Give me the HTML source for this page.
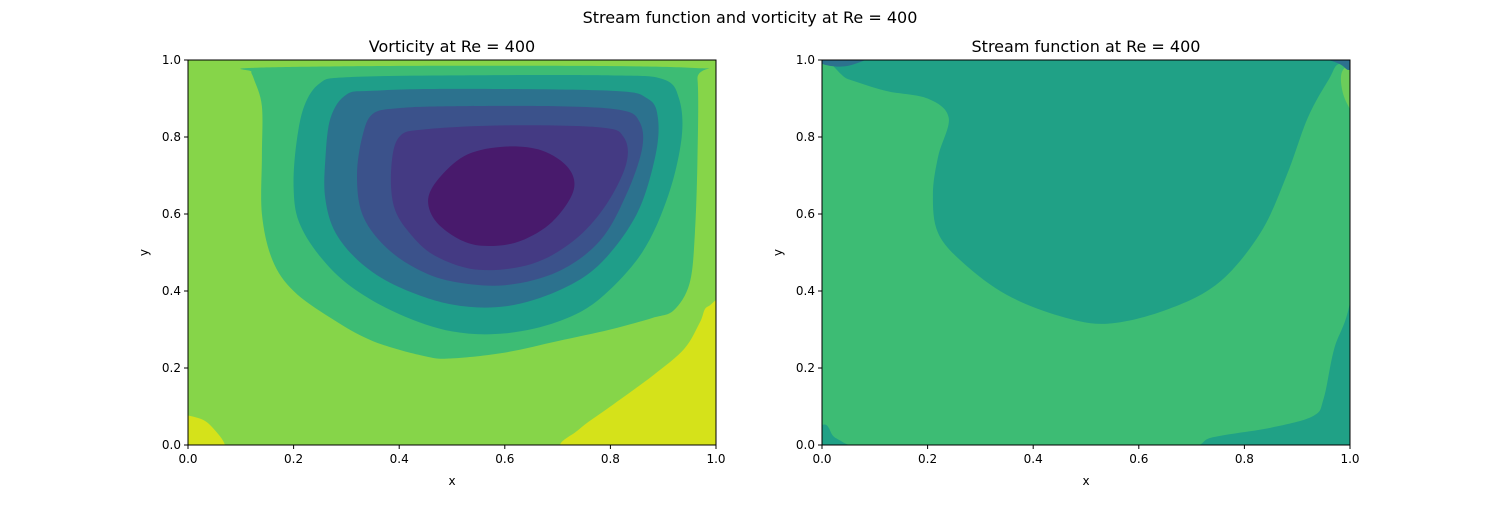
<!DOCTYPE html>
<html><head><meta charset="utf-8"><style>
body{margin:0;background:#fff;}
svg text{font-family:"DejaVu Sans","Liberation Sans",sans-serif;fill:#000;}
</style></head><body>
<svg id="fig" width="1500" height="500" viewBox="0 0 1500 500">
<rect width="1500" height="500" fill="#fff"/>
<text x="750" y="23" font-size="16" text-anchor="middle">Stream function and vorticity at Re = 400</text>
</svg>
<script>
// ---- data (data coordinates, x,y in [0,1]) ----
const ticks=[0,0.2,0.4,0.6,0.8,1.0];
const tickLabels=["0.0","0.2","0.4","0.6","0.8","1.0"];
const vortBg="#86d549";
const vortColors=["#d5e21a","#d5e21a","#3dbc74","#1f9e89","#2c728e","#3b528b","#443a83","#481a6c"];
const vortLevels=[
[[0.71,-0.01],[0.74,0.04],[0.8,0.1],[0.88,0.18],[0.94,0.25],[0.97,0.32],[0.985,0.36],[1.03,0.355],[1.04,-0.04],[0.85,-0.05]],
[[-0.03,-0.03],[-0.03,0.07],[0.02,0.07],[0.05,0.04],[0.07,-0.01],[0.03,-0.05]],
[[0.12,0.97],[0.125,0.95],[0.14,0.88],[0.14,0.75],[0.14,0.6],[0.16,0.48],[0.2,0.4],[0.27,0.33],[0.35,0.27],[0.45,0.23],[0.5,0.225],[0.6,0.24],[0.7,0.27],[0.8,0.3],[0.88,0.33],[0.92,0.35],[0.95,0.42],[0.96,0.55],[0.965,0.75],[0.965,0.95],[0.95,0.98],[0.5,0.985],[0.13,0.98]],
[[0.25,0.94],[0.22,0.88],[0.205,0.78],[0.2,0.67],[0.21,0.58],[0.25,0.49],[0.31,0.41],[0.4,0.34],[0.5,0.295],[0.6,0.29],[0.7,0.32],[0.78,0.38],[0.86,0.5],[0.91,0.65],[0.935,0.8],[0.93,0.9],[0.9,0.95],[0.8,0.96],[0.5,0.96],[0.3,0.955]],
[[0.3,0.91],[0.27,0.85],[0.26,0.74],[0.26,0.64],[0.28,0.55],[0.33,0.47],[0.4,0.41],[0.5,0.365],[0.6,0.36],[0.7,0.4],[0.78,0.47],[0.85,0.6],[0.885,0.75],[0.89,0.85],[0.87,0.9],[0.8,0.92],[0.5,0.925],[0.35,0.92]],
[[0.35,0.86],[0.33,0.8],[0.32,0.7],[0.33,0.6],[0.37,0.52],[0.43,0.46],[0.5,0.425],[0.6,0.415],[0.7,0.45],[0.78,0.53],[0.83,0.65],[0.86,0.77],[0.855,0.84],[0.82,0.87],[0.7,0.88],[0.5,0.88],[0.4,0.875]],
[[0.4,0.8],[0.385,0.72],[0.39,0.62],[0.42,0.55],[0.47,0.49],[0.55,0.455],[0.65,0.47],[0.73,0.53],[0.79,0.62],[0.83,0.73],[0.825,0.8],[0.78,0.825],[0.6,0.83],[0.45,0.82]],
[[0.455,0.64],[0.47,0.58],[0.52,0.53],[0.57,0.517],[0.63,0.53],[0.69,0.58],[0.73,0.66],[0.72,0.72],[0.67,0.765],[0.6,0.775],[0.53,0.755],[0.48,0.7]]
];
const streamBg="#20a186";
const streamColors=["#3dbc74","#6ccd5a","#2c728e","#2c728e"];
const streamLevels=[
[[-0.02,0.1],[0.01,0.05],[0.03,0.015],[0.1,-0.01],[0.4,-0.04],[0.68,-0.01],[0.74,0.02],[0.85,0.045],[0.93,0.075],[0.95,0.12],[0.97,0.25],[1.0,0.37],[1.03,0.66],[1.02,0.97],[0.98,0.99],[0.96,0.95],[0.92,0.85],[0.88,0.7],[0.83,0.55],[0.75,0.42],[0.65,0.35],[0.54,0.315],[0.45,0.335],[0.35,0.39],[0.27,0.47],[0.22,0.55],[0.21,0.65],[0.22,0.75],[0.24,0.85],[0.2,0.9],[0.12,0.92],[0.05,0.95],[-0.02,0.98],[-0.05,0.5]],
[[1.02,0.85],[0.99,0.9],[0.985,0.97],[1.02,0.99]],
[[-0.02,1.02],[0,0.99],[0.05,0.985],[0.1,1.02]],
[[0.93,1.02],[0.98,0.99],[1,0.975],[1.02,1.02]]
];
// ---- drawing ----
const NS="http://www.w3.org/2000/svg";
const fig=document.getElementById('fig');
function mk(tag,attrs,parent){const e=document.createElementNS(NS,tag);for(const k in attrs)e.setAttribute(k,attrs[k]);(parent||fig).appendChild(e);return e;}
function smoothPath(pts){
  const n=pts.length;let d='M'+pts[0][0].toFixed(1)+','+pts[0][1].toFixed(1);
  for(let i=0;i<n;i++){
    const p0=pts[(i-1+n)%n],p1=pts[i],p2=pts[(i+1)%n],p3=pts[(i+2)%n];
    const c1=[p1[0]+(p2[0]-p0[0])/6,p1[1]+(p2[1]-p0[1])/6];
    const c2=[p2[0]-(p3[0]-p1[0])/6,p2[1]-(p3[1]-p1[1])/6];
    d+=`C${c1[0].toFixed(1)},${c1[1].toFixed(1)} ${c2[0].toFixed(1)},${c2[1].toFixed(1)} ${p2[0].toFixed(1)},${p2[1].toFixed(1)}`;
  }
  return d+'Z';
}
function panel(x0,title,bg,levels,colors,key){
  const x1=x0+528,y0=60,y1=445;
  const sx=v=>x0+v*(x1-x0), sy=v=>y1-v*(y1-y0);
  const g=mk('g',{});
  
  
  const cp=mk('clipPath',{id:'c'+key},g);mk('rect',{x:x0,y:y0,width:528,height:385},cp);
  const pg=mk('g',{'clip-path':'url(#c'+key+')'},g);
  const b=mk('rect',{x:x0,y:y0,width:528,height:385,fill:bg},pg);
  
  
  levels.forEach((poly,i)=>{
    const p=mk('path',{d:smoothPath(poly.map(q=>[sx(q[0]),sy(q[1])])),fill:colors[i]},pg);
    
    
  });
  const fr=mk('rect',{x:x0,y:y0,width:528,height:385,fill:'none',stroke:'#000','stroke-width':1},g);
  
  
  ticks.forEach((t,i)=>{
    mk('line',{x1:sx(t),x2:sx(t),y1:y1,y2:y1+4,stroke:'#000'},g);
    const tx=mk('text',{x:sx(t),y:y1+18,'font-size':12,'text-anchor':'middle'},g);tx.textContent=tickLabels[i];
    
    
    mk('line',{x1:x0-4,x2:x0,y1:sy(t),y2:sy(t),stroke:'#000'},g);
    const ty=mk('text',{x:x0-7,y:sy(t)+4,'font-size':12,'text-anchor':'end'},g);ty.textContent=tickLabels[i];
    
    
  });
  const xt=mk('text',{x:(x0+x1)/2,y:485,'font-size':12,'text-anchor':'middle'},g);xt.textContent='x';
  
  
  const yt=mk('text',{x:x0-40,y:(y0+y1)/2,'font-size':12,'text-anchor':'middle',transform:`rotate(-90 ${x0-40} ${(y0+y1)/2})`},g);yt.textContent='y';
  
  
  const tt=mk('text',{x:(x0+x1)/2,y:52,'font-size':16,'text-anchor':'middle'},g);tt.textContent=title;
  
  
}
panel(188,'Vorticity at Re = 400',vortBg,vortLevels,vortColors,'vorticity');
panel(822,'Stream function at Re = 400',streamBg,streamLevels,streamColors,'stream');
</script>
</body></html>
